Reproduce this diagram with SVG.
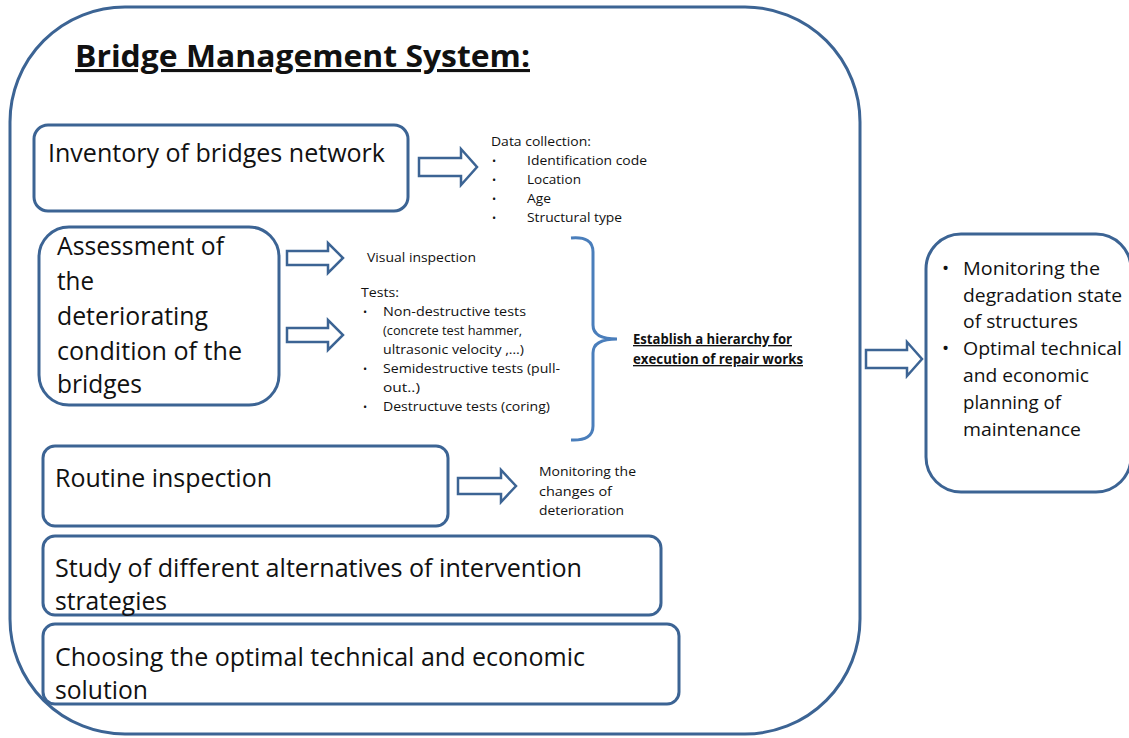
<svg xmlns="http://www.w3.org/2000/svg" width="1129" height="738" viewBox="0 0 1129 738">
<style>
.frame{fill:#fff;stroke:#3c6494;stroke-width:3}
.box{fill:#fff;stroke:#3c6494;stroke-width:3}
.arrow{fill:#fff;stroke:#3c6494;stroke-width:2.5;stroke-linejoin:miter}
.brace{fill:none;stroke:#4a7ebb;stroke-width:3}
text{font-family:"Open Sans","Liberation Sans",Arial,sans-serif;fill:#111}
.title{font-size:31px;font-weight:bold;text-decoration:underline}
.big{font-size:25px}
.mid{font-size:19px}
.small{font-size:13.5px}
.dot{font-size:11px}
.bold{font-weight:bold;text-decoration:underline}
</style>
<rect width="1129" height="738" fill="#fff"/>
<g id="frame">
<rect class="frame" x="10" y="7" width="850" height="727" rx="115" ry="115"/>
<text class="title" x="75" y="67" textLength="455" lengthAdjust="spacingAndGlyphs">Bridge Management System:</text>
</g>
<g id="node-inventory">
<rect class="box" x="34" y="125" width="374" height="86" rx="14"/>
<text class="big" x="48" y="162" textLength="337" lengthAdjust="spacingAndGlyphs">Inventory of bridges network</text>
</g>
<g id="node-data">
<text class="small" x="491" y="146" textLength="100" lengthAdjust="spacingAndGlyphs">Data collection:</text>
<text class="dot" x="492" y="165">•</text>
<text class="small" x="527" y="165" textLength="120" lengthAdjust="spacingAndGlyphs">Identification code</text>
<text class="dot" x="492" y="184">•</text>
<text class="small" x="527" y="184" textLength="54" lengthAdjust="spacingAndGlyphs">Location</text>
<text class="dot" x="492" y="203">•</text>
<text class="small" x="527" y="203" textLength="24" lengthAdjust="spacingAndGlyphs">Age</text>
<text class="dot" x="492" y="222">•</text>
<text class="small" x="527" y="222" textLength="95" lengthAdjust="spacingAndGlyphs">Structural type</text>
</g>
<g id="node-assessment">
<rect class="box" x="39" y="227" width="240" height="178" rx="30"/>
<text class="big" x="57" y="255" textLength="167" lengthAdjust="spacingAndGlyphs">Assessment of</text>
<text class="big" x="57" y="290" textLength="37" lengthAdjust="spacingAndGlyphs">the</text>
<text class="big" x="57" y="325" textLength="151" lengthAdjust="spacingAndGlyphs">deteriorating</text>
<text class="big" x="57" y="360" textLength="185" lengthAdjust="spacingAndGlyphs">condition of the</text>
<text class="big" x="57" y="393" textLength="85" lengthAdjust="spacingAndGlyphs">bridges</text>
</g>
<g id="node-tests">
<text class="small" x="367" y="262" textLength="109" lengthAdjust="spacingAndGlyphs">Visual inspection</text>
<text class="small" x="361" y="297" textLength="38" lengthAdjust="spacingAndGlyphs">Tests:</text>
<text class="dot" x="363" y="316">•</text>
<text class="small" x="383" y="316" textLength="143" lengthAdjust="spacingAndGlyphs">Non-destructive  tests</text>
<text class="small" x="383" y="335" textLength="139" lengthAdjust="spacingAndGlyphs">(concrete test hammer,</text>
<text class="small" x="383" y="354" textLength="141" lengthAdjust="spacingAndGlyphs">ultrasonic velocity ,…)</text>
<text class="dot" x="363" y="373">•</text>
<text class="small" x="383" y="373" textLength="177" lengthAdjust="spacingAndGlyphs">Semidestructive tests (pull-</text>
<text class="small" x="383" y="392" textLength="37" lengthAdjust="spacingAndGlyphs">out..)</text>
<text class="dot" x="363" y="411">•</text>
<text class="small" x="383" y="411" textLength="167" lengthAdjust="spacingAndGlyphs">Destructuve tests (coring)</text>
</g>
<g id="node-hierarchy">
<text class="small bold" x="633" y="344" textLength="159" lengthAdjust="spacingAndGlyphs">Establish a hierarchy for</text>
<text class="small bold" x="633" y="364" textLength="170" lengthAdjust="spacingAndGlyphs">execution of repair works</text>
</g>
<g id="node-routine">
<rect class="box" x="43" y="446" width="405" height="80" rx="12"/>
<text class="big" x="55" y="487" textLength="217" lengthAdjust="spacingAndGlyphs">Routine inspection</text>
</g>
<g id="node-monitoring-changes">
<text class="small" x="539" y="476" textLength="97" lengthAdjust="spacingAndGlyphs">Monitoring the</text>
<text class="small" x="539" y="496" textLength="73" lengthAdjust="spacingAndGlyphs">changes  of</text>
<text class="small" x="539" y="515" textLength="85" lengthAdjust="spacingAndGlyphs">deterioration</text>
</g>
<g id="node-study">
<rect class="box" x="43" y="536" width="618" height="79" rx="12"/>
<text class="big" x="55" y="577" textLength="527" lengthAdjust="spacingAndGlyphs">Study of different alternatives of intervention</text>
<text class="big" x="55" y="610" textLength="112" lengthAdjust="spacingAndGlyphs">strategies</text>
</g>
<g id="node-choosing">
<rect class="box" x="43" y="624" width="636" height="80" rx="12"/>
<text class="big" x="55" y="666" textLength="530" lengthAdjust="spacingAndGlyphs">Choosing the optimal technical and economic</text>
<text class="big" x="55" y="699" textLength="93" lengthAdjust="spacingAndGlyphs">solution</text>
</g>
<g id="node-result">
<rect class="box" x="926" y="234" width="205" height="258" rx="35"/>
<text class="mid" x="942" y="275">•</text>
<text class="mid" x="963" y="275" textLength="137" lengthAdjust="spacingAndGlyphs">Monitoring the</text>
<text class="mid" x="963" y="302" textLength="159" lengthAdjust="spacingAndGlyphs">degradation state</text>
<text class="mid" x="963" y="328" textLength="115" lengthAdjust="spacingAndGlyphs">of structures</text>
<text class="mid" x="942" y="355">•</text>
<text class="mid" x="963" y="355" textLength="159" lengthAdjust="spacingAndGlyphs">Optimal technical</text>
<text class="mid" x="963" y="382" textLength="126" lengthAdjust="spacingAndGlyphs">and economic</text>
<text class="mid" x="963" y="409" textLength="98" lengthAdjust="spacingAndGlyphs">planning of</text>
<text class="mid" x="963" y="436" textLength="118" lengthAdjust="spacingAndGlyphs">maintenance</text>
</g>
<g id="connectors">
<polygon class="arrow" points="419,158 461,158 461,149 477,167 461,185 461,176 419,176"/>
<polygon class="arrow" points="287,251 328,251 328,243 343,258 328,273 328,265 287,265"/>
<polygon class="arrow" points="287,328 328,328 328,320 343,335 328,350 328,342 287,342"/>
<polygon class="arrow" points="458,478 501,478 501,470 516,486 501,502 501,494 458,494"/>
<polygon class="arrow" points="866,350 907,350 907,342 922,359 907,376 907,368 866,368"/>
<path class="brace" d="M571,238 Q593,236 593,252 L593,325 Q593,339 617,339 Q593,339 593,353 L593,426 Q593,441 571,440"/>
</g>
</svg>
